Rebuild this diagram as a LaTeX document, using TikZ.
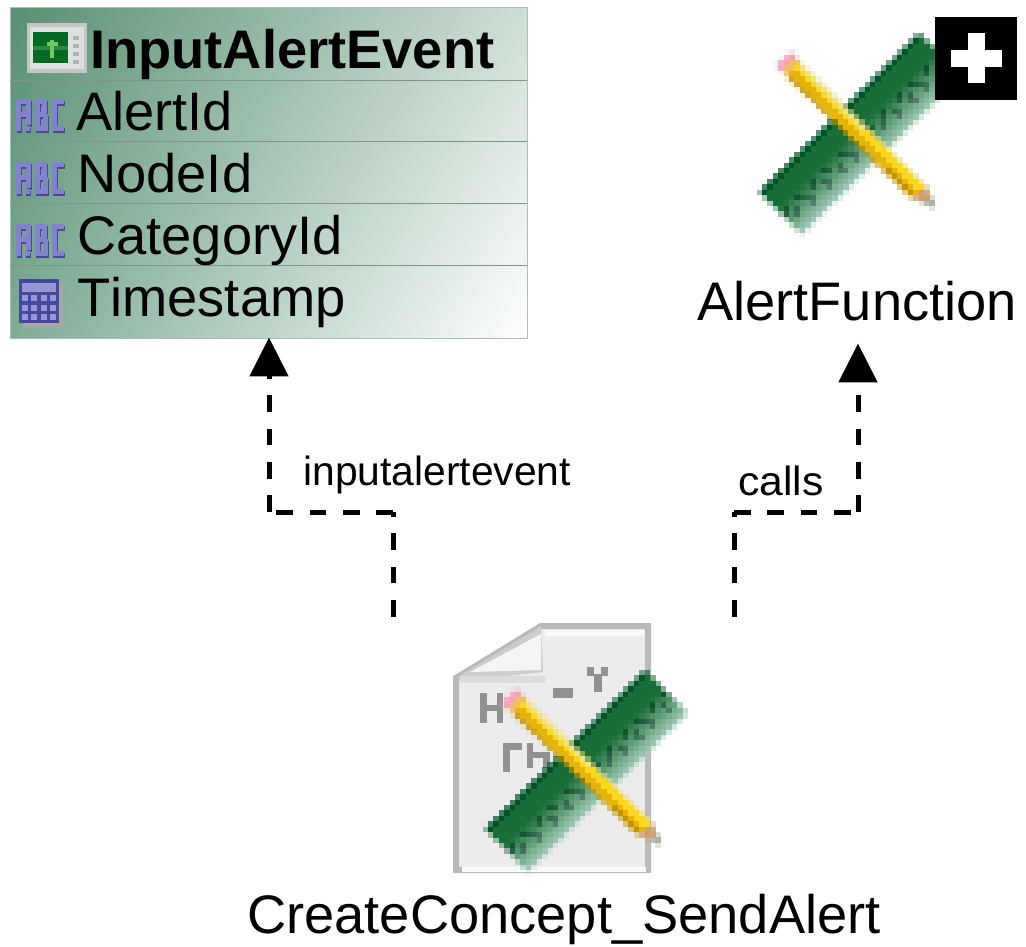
\documentclass[tikz,border=0pt]{standalone}
\usepackage{fontspec}
\usepackage{graphicx}
\setmainfont[Kerning=Off]{Liberation Sans}
\usetikzlibrary{arrows.meta,shadings}
\definecolor{tabline}{RGB}{125,150,135}
\definecolor{tabedge}{RGB}{175,190,180}
\definecolor{abcfill}{RGB}{130,130,205}
\definecolor{abcdark}{RGB}{72,72,150}
\definecolor{docfill}{RGB}{236,236,236}
\definecolor{docedge}{RGB}{185,185,185}
\definecolor{blob}{RGB}{145,145,145}
\definecolor{calfill}{RGB}{72,72,155}
\definecolor{caltop}{RGB}{150,150,215}
\definecolor{calcell}{RGB}{150,150,222}
\definecolor{tabul}{RGB}{88,143,113}
\definecolor{tabur}{RGB}{205,222,212}
\definecolor{tabll}{RGB}{125,172,148}
\definecolor{tablr}{RGB}{255,255,255}
\definecolor{screen}{RGB}{5,105,35}
\definecolor{screenband}{RGB}{45,135,60}
\definecolor{screenplus}{RGB}{110,200,90}
\tikzset{
  px/.style={x=0.75pt,y=-0.75pt},
  big/.style={font=\fontsize{40.7pt}{44pt}\selectfont,inner sep=0pt,anchor=base west},
  bigb/.style={font=\fontsize{40.7pt}{44pt}\selectfont\bfseries,inner sep=0pt,anchor=base west},
  lbl/.style={font=\fontsize{30.6pt}{34pt}\selectfont,inner sep=0pt,anchor=base west},
  dep/.style={line width=3.75pt,dash pattern=on 12.5pt off 12.5pt},
  deparrow/.style={dep,-{Triangle[length=29.2pt,width=28.5pt]}},
  ghost/.style={inner sep=0pt,outer sep=0pt,minimum width=0pt}
}
% pixel mosaic of the ruler and pencil; #1,#2 = offset from the lower icon
\newcommand{\rulerpencil}[2]{%
\begin{scope}[shift={(#1,#2)}]
\foreach \ii in {0,...,44}{\foreach \jj in {0,...,42}{%
  \pgfmathsetmacro\pa{480+\ii*5.4}%
  \pgfmathsetmacro\pb{662+\jj*5.4}%
  \pgfmathsetmacro\ss{(\pa-485)*0.711-(\pb-828)*0.703}%
  \pgfmathsetmacro\tt{(\pa-485)*0.703+(\pb-828)*0.711}%
  \pgfmathsetmacro\cov{min(1,min(min(\ss,225-\ss),min(\tt,61-\tt))/5.4+0.5)}%
  \ifdim\cov pt>0pt
    \pgfmathsetmacro\ff{max(0,min(1,\tt/61))}%
    \pgfmathsetmacro\mm{\ff<0.42?0:(\ff-0.42)/0.58}%
    \pgfmathsetmacro\tick{((\tt>28&&\tt<36&&mod(abs(\ss),20)<8)||(\tt>38&&\tt<47&&mod(abs(\ss),20)>10&&mod(abs(\ss),20)<17))?1:0}%
    \pgfmathsetmacro\RR{(\ff<0.12?0:25)+\mm*140-\tick*28}%
    \pgfmathsetmacro\GG{(\ff<0.12?85:110)+\mm*95-\tick*42}%
    \pgfmathsetmacro\BB{(\ff<0.12?40:55)+\mm*130-\tick*28}%
    \definecolor{cc}{rgb}{\fpeval{max(0,\RR)/255},\fpeval{\GG/255},\fpeval{\BB/255}}%
    \fill[cc,fill opacity=\cov] (\pa-2.8,\pb-2.8) rectangle (\pa+2.8,\pb+2.8);
  \fi
  \pgfmathsetmacro\sp{(\pa-508)*0.716+(\pb-695)*0.698}%
  \pgfmathsetmacro\tp{(\pa-508)*0.698-(\pb-695)*0.716}%
  \pgfmathsetmacro\hw{\sp<188?10:max(2,10-(\sp-188)*0.33)}%
  \pgfmathsetmacro\cop{min(1,min(min(\sp-1,214-\sp),\hw-abs(\tp))/5.4+0.5)}%
  \ifdim\cop pt>0pt
    \pgfmathsetmacro\RR{\sp<10?245:(\sp<17?240:(\sp>205?170:(\sp>190?205:(\tp>6?240:(\tp>0?252:(\tp>-6?230:195))))))}%
    \pgfmathsetmacro\GG{\sp<10?160:(\sp<17?190:(\sp>205?170:(\sp>190?160:(\tp>6?225:(\tp>0?215:(\tp>-6?180:148))))))}%
    \pgfmathsetmacro\BB{\sp<10?190:(\sp<17?100:(\sp>205?160:(\sp>190?110:(\tp>6?130:(\tp>0?30:(\tp>-6?10:0))))))}%
    \definecolor{cc}{RGB}{\fpeval{round(\RR)},\fpeval{round(\GG)},\fpeval{round(\BB)}}%
    \fill[cc,fill opacity=\cop] (\pa-2.8,\pb-2.8) rectangle (\pa+2.8,\pb+2.8);
  \fi
}}
\end{scope}}
% blocky ABC glyphs; #1 = top y
\newcommand{\abcicon}[1]{%
\begin{scope}[shift={(0,#1)}]
 \foreach \dd/\cl in {1.5/abcdark,0/abcfill}{
 \begin{scope}[shift={(\dd*0.6,\dd)}]
  \fill[\cl] (16,2) rectangle (21,34);
  \fill[\cl] (16,2) rectangle (30,7);
  \fill[\cl] (26,2) rectangle (31,28);
  \fill[\cl] (16,15) rectangle (31,20);
  \fill[\cl] (25,29) rectangle (30,34);
  \fill[\cl] (35,2) rectangle (40,34);
  \fill[\cl] (35,2) rectangle (46,7);
  \fill[\cl] (35,15) rectangle (47,20);
  \fill[\cl] (35,29) rectangle (47,34);
  \fill[\cl] (42,2) rectangle (47,15);
  \fill[\cl] (43,17) rectangle (48,34);
  \fill[\cl] (52,2) rectangle (57,34);
  \fill[\cl] (52,2) rectangle (64,7);
  \fill[\cl] (52,29) rectangle (64,34);
 \end{scope}}
\end{scope}}
\begin{document}
\begin{tikzpicture}[px]
\useasboundingbox (0,0) rectangle (1026,947);
% class table
\shade[upper left=tabul,upper right=tabur,lower left=tabll,lower right=tablr]
   (10,7) rectangle (527,338);
\node[ghost,draw=tabedge,line width=0.75pt,minimum width=387.75pt,minimum height=248.25pt,anchor=north west] (tab) at (10,7) {};
\foreach \yy in {80,141.5,203,265.5}\draw[tabline,line width=0.75pt] (10,\yy) -- (527,\yy);
% title icon
\fill[gray!45] (27,23) rectangle (87,73);
\fill[gray!25] (30,27) rectangle (84,69);
\fill[screen] (33,32) rectangle (68,63);
\fill[screenband] (33,46) rectangle (68,50);
\fill[screenplus] (47,42) rectangle (58,46);
\fill[screenplus] (50,40) rectangle (54,58);
\foreach \yy in {36,44,52,60}\fill[gray!60] (73,\yy) rectangle (79,\yy+4);
\node[bigb] (title) at (90,68) {InputAlertEvent};
\abcicon{97}\abcicon{160}\abcicon{222}
\node[big] (f1) at (76,130) {AlertId};
\node[big] (f2) at (77,192) {NodeId};
\node[big] (f3) at (77,254) {CategoryId};
\node[big] (f4) at (77,316) {Timestamp};
% calendar icon
\fill[gray!70] (23,284) rectangle (63,328);
\fill[calfill] (19,279) rectangle (59,323);
\fill[caltop] (22,283) rectangle (56,292);
\foreach \cx in {22,31.3,40.6,50}\foreach \cy in {295,304.5,314}\fill[calcell] (\cx,\cy) rectangle (\cx+6,\cy+6);
% AlertFunction
\rulerpencil{274}{-637}
\node[ghost,fill=black,minimum width=61.5pt,minimum height=62pt,anchor=north west] (plusbox) at (935,17) {};
\fill[white] (951,50) rectangle (1002,67);
\fill[white] (968,33) rectangle (985,83);
\node[big] (func) at (697,320) {AlertFunction};
% CreateConcept_SendAlert
\filldraw[fill=docfill,draw=docedge,line width=4.5pt,line join=miter]
   (456,678) -- (541,626) -- (648,626) -- (648,870) -- (456,870) -- cycle;
\fill[white!75!docfill] (462,872) rectangle (646,867);
\fill[white!70!docfill] (545,630) rectangle (644,636);
\fill[gray!40] (456,678) -- (541,626) -- (543,672) -- (470,680) -- cycle;
\fill[gray!8] (470,672) -- (541,634) -- (541,670) -- cycle;
\fill[gray!28] (460,676) rectangle (545,683);
\foreach \xa/\ya/\xb/\yb in {480/693/487/723,497/693/503/723,480/705/503/711,
   553/688/573/698,587/667/594/676,601/667/608/676,594/674/602/692,
   503/749/510/772,503/743/522/750,527/743/533/768,527/752/550/758,543/752/550/768}
  \fill[blob] (\xa,\ya) rectangle (\xb,\yb);
\rulerpencil{0}{0}
\node[big] (send) at (247,933) {CreateConcept\_SendAlert};
% connectors
\coordinate (s1) at (393,616.5);
\coordinate (s2) at (734,616.5);
\coordinate (j1) at (393,512);
\coordinate (j2) at (734,512);
\coordinate (k1) at (269,512);
\coordinate (k2) at (858,512);
\coordinate (t1) at (269,337.5);
\coordinate (t2) at (858,343.5);
\draw[dep] (s1) -- (j1);
\draw[dep] (j1) -- (k1);
\draw[deparrow] (k1) -- (t1);
\draw[dep] (s2) -- (j2);
\draw[dep] (j2) -- (k2);
\draw[deparrow] (k2) -- (t2);
\node[lbl] (l1) at (303,485) {inputalertevent};
\node[lbl] (l2) at (738,495) {\scalebox{1.045}[1]{calls}};
\end{tikzpicture}
\end{document}
